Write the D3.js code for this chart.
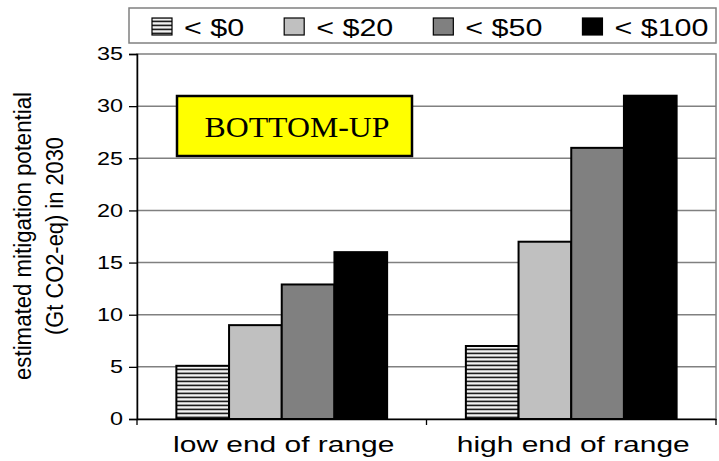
<!DOCTYPE html>
<html>
<head>
<meta charset="utf-8">
<script src="https://cdn.jsdelivr.net/npm/d3@7"></script>
<style>
  body { margin: 0; background: #fff; }
  text { font-family: "Liberation Sans", Arial, sans-serif; fill: #000; }
</style>
</head>
<body>
<svg id="chart" width="719" height="461"></svg>
<script>
// Estimated mitigation potential in 2030 (Gt CO2-eq), by carbon price ceiling
const categories = ["low end of range", "high end of range"];
const seriesNames = ["< $0", "< $20", "< $50", "< $100"];
const below0 = [5.1, 7.0];
const below20 = [9.0, 17.0];
const below50 = [12.9, 26.0];
const below100 = [16.0, 31.0];
const yTicks = [0, 5, 10, 15, 20, 25, 30, 35];
const yTitle = ["estimated mitigation potential", "(Gt CO2-eq) in 2030"];
const boxLabel = "BOTTOM-UP";

const seriesValues = [below0, below20, below50, below100];
const series = seriesNames.map((name, i) => ({ name, values: seriesValues[i] }));

const fills = ["url(#stripes)", "#c0c0c0", "#808080", "#000000"];

const svg = d3.select("#chart");

// Horizontal hatching for the "< $0" bars
const defs = svg.append("defs");
const pat = defs.append("pattern")
  .attr("id", "stripes").attr("patternUnits", "userSpaceOnUse")
  .attr("width", 8).attr("height", 4);
pat.append("rect").attr("width", 8).attr("height", 4).attr("fill", "#ffffff");
pat.append("rect").attr("y", 0).attr("width", 8).attr("height", 1).attr("fill", "#9a9a9a");
pat.append("rect").attr("y", 1).attr("width", 8).attr("height", 1.3).attr("fill", "#1e1e1e");
pat.append("rect").attr("y", 2.3).attr("width", 8).attr("height", 0.9).attr("fill", "#c4c4c4");

const plot = { left: 137, right: 716, top: 54, bottom: 419 };

const x0 = d3.scaleBand().domain(categories)
  .range([plot.left, plot.right]).paddingInner(0.272).paddingOuter(0.136);
const x1 = d3.scaleBand().domain(seriesNames).range([0, x0.bandwidth()]);
const y = d3.scaleLinear().domain([0, 35]).range([plot.bottom, plot.top]);

// Stretch text horizontally by a factor; returns the resulting width
function widen(sel, factor) {
  let w = 0;
  sel.each(function () {
    const len = this.getComputedTextLength();
    w = len * factor;
    d3.select(this).attr("textLength", w).attr("lengthAdjust", "spacingAndGlyphs");
  });
  return w;
}

// Plot frame and gridlines
svg.append("rect")
  .attr("x", plot.left).attr("y", plot.top)
  .attr("width", plot.right - plot.left).attr("height", plot.bottom - plot.top)
  .attr("fill", "none").attr("stroke", "#808080").attr("stroke-width", 1.5);

svg.append("g").selectAll("line")
  .data(yTicks.filter(t => t > 0 && t < 35))
  .join("line")
  .attr("x1", plot.left).attr("x2", plot.right)
  .attr("y1", d => y(d)).attr("y2", d => y(d))
  .attr("stroke", "#808080").attr("stroke-width", 1.5);

// Bars
const groups = svg.append("g").selectAll("g")
  .data(categories)
  .join("g")
  .attr("transform", d => `translate(${x0(d)},0)`);

groups.selectAll("rect")
  .data((c, ci) => series.map((s, si) => ({ name: s.name, value: s.values[ci], si })))
  .join("rect")
  .attr("x", d => x1(d.name))
  .attr("width", x1.bandwidth())
  .attr("y", d => y(d.value))
  .attr("height", d => y(0) - y(d.value))
  .attr("fill", d => fills[d.si])
  .attr("stroke", "#000").attr("stroke-width", 2);

// Y axis
const yAxis = svg.append("g")
  .attr("transform", `translate(${plot.left},0)`)
  .call(d3.axisLeft(y).tickValues(yTicks).tickSize(8).tickPadding(6).tickFormat(d3.format("d")));
yAxis.select(".domain").attr("stroke", "#000").attr("stroke-width", 1.5);
yAxis.selectAll(".tick line").attr("stroke", "#000").attr("stroke-width", 1.3);
yAxis.selectAll(".tick text")
  .style("font-family", '"Liberation Sans", Arial, sans-serif')
  .style("font-size", "18px").attr("fill", "#000");
yAxis.selectAll(".tick text").each(function () { widen(d3.select(this), 1.3); });

// X axis
const xAxis = svg.append("g")
  .attr("transform", `translate(0,${plot.bottom})`)
  .call(d3.axisBottom(x0).tickSize(0).tickPadding(0).tickFormat(() => ""));
xAxis.select(".domain").attr("stroke", "#000").attr("stroke-width", 1.5);
xAxis.selectAll(".tick").remove();
const boundaries = [plot.left, (x0(categories[0]) + x0.bandwidth() + x0(categories[1])) / 2, plot.right];
xAxis.selectAll("line.sep")
  .data(boundaries).join("line").attr("class", "sep")
  .attr("x1", d => d).attr("x2", d => d).attr("y1", 0).attr("y2", 6)
  .attr("stroke", "#000").attr("stroke-width", 1.3);

svg.append("g").selectAll("text")
  .data(categories).join("text")
  .attr("x", d => x0(d) + x0.bandwidth() / 2 + 2)
  .attr("y", 452)
  .attr("text-anchor", "middle")
  .style("font-size", "22px")
  .text(d => d)
  .each(function () { widen(d3.select(this), 1.36); });

// Y axis title (two rotated lines)
const titleX = [23, 55];
yTitle.forEach((line, i) => {
  svg.append("text")
    .attr("transform", `translate(${titleX[i]},236) rotate(-90)`)
    .attr("text-anchor", "middle")
    .attr("dominant-baseline", "central")
    .style("font-size", "23px")
    .attr("textLength", i === 0 ? 288 : 198)
    .attr("lengthAdjust", "spacingAndGlyphs")
    .text(line);
});

// Legend
const legend = svg.append("g");
legend.append("rect")
  .attr("x", 129).attr("y", 8).attr("width", 587).attr("height", 35)
  .attr("fill", "#fff").attr("stroke", "#808080").attr("stroke-width", 1.5);

let lx = 152;
series.forEach((s, i) => {
  legend.append("rect")
    .attr("x", lx).attr("y", 18).attr("width", 20).attr("height", 17)
    .attr("fill", fills[i]).attr("stroke", "#000").attr("stroke-width", 1.2);
  const t = legend.append("text")
    .attr("x", lx + 32).attr("y", 35.5)
    .style("font-size", "24px")
    .text(s.name);
  const w = widen(t, 1.27);
  lx = lx + 32 + w + 40;
});

// Annotation box
const note = svg.append("g");
note.append("rect")
  .attr("x", 177).attr("y", 96).attr("width", 235).attr("height", 60)
  .attr("fill", "#ffff00").attr("stroke", "#000").attr("stroke-width", 2.5);
note.append("text")
  .attr("x", 297).attr("y", 137)
  .attr("text-anchor", "middle")
  .style("font-family", '"Liberation Serif", "Times New Roman", serif')
  .style("font-size", "30px")
  .attr("textLength", 185).attr("lengthAdjust", "spacingAndGlyphs")
  .text(boxLabel);
</script>
</body>
</html>
